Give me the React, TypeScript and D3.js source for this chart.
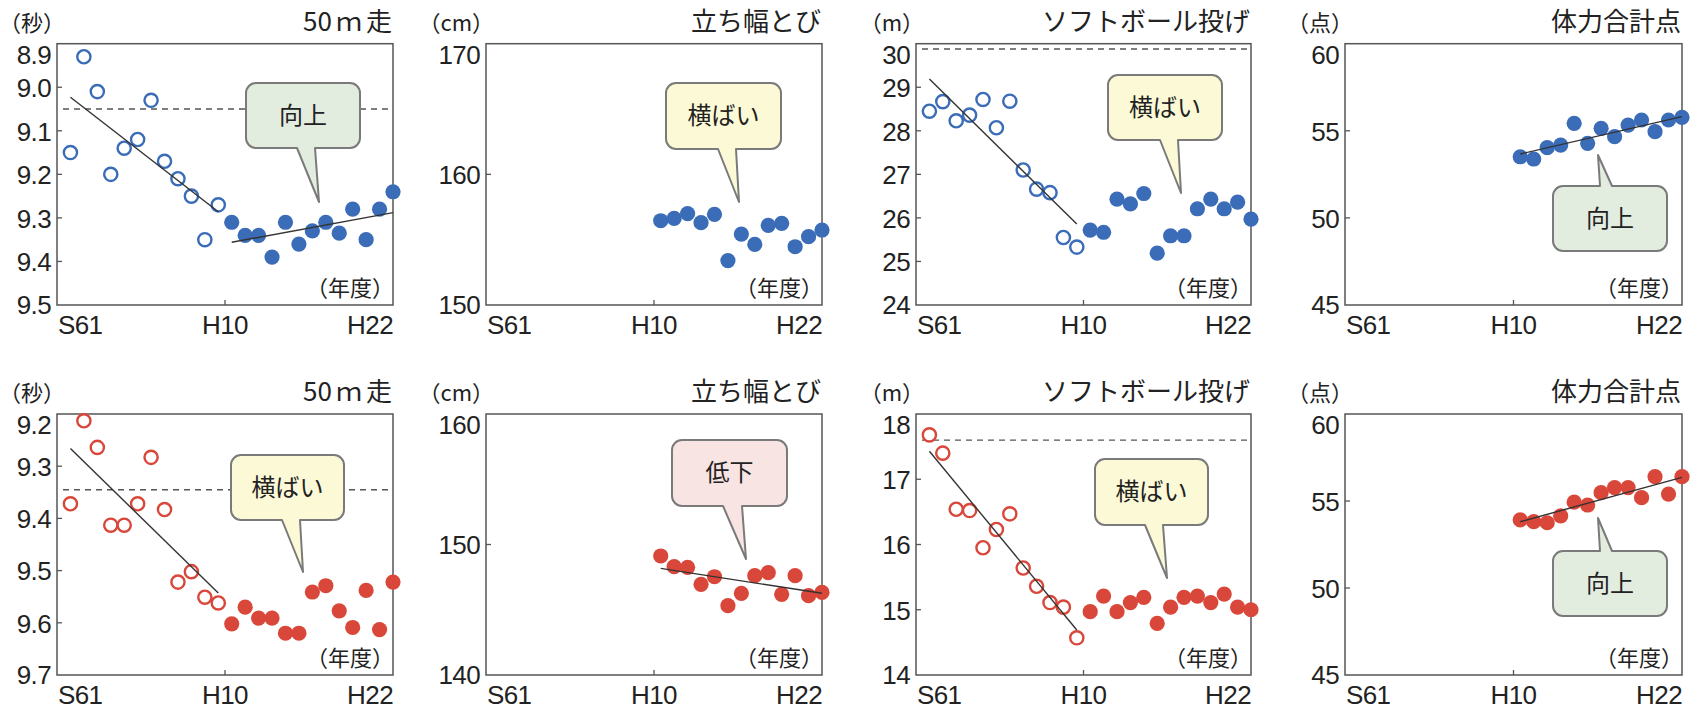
import React from 'react';
import * as d3 from 'd3';

// ---------- data ----------
const yearsOld = [1986, 1987, 1988, 1989, 1990, 1991, 1992, 1993, 1994, 1995, 1996, 1997];
const yearsNew = [1998, 1999, 2000, 2001, 2002, 2003, 2004, 2005, 2006, 2007, 2008, 2009, 2010];
const xTickLabels = ['S61', 'H10', 'H22'];

const boyRunOld = [9.15, 8.93, 9.01, 9.2, 9.14, 9.12, 9.03, 9.17, 9.21, 9.25, 9.35, 9.27];
const boyRunNew = [9.31, 9.34, 9.34, 9.39, 9.31, 9.36, 9.33, 9.31, 9.335, 9.28, 9.35, 9.28, 9.24];
const boyJumpNew = [156.45, 156.63, 157.0, 156.3, 156.94, 153.4, 155.43, 154.64, 156.1, 156.25, 154.46, 155.23, 155.74];
const boyThrowOld = [28.45, 28.67, 28.23, 28.36, 28.72, 28.07, 28.68, 27.1, 26.66, 26.58, 25.55, 25.33];
const boyThrowNew = [25.72, 25.67, 26.43, 26.32, 26.56, 25.19, 25.59, 25.59, 26.21, 26.43, 26.21, 26.36, 25.97];
const boyTotalNew = [53.51, 53.38, 54.03, 54.18, 55.43, 54.28, 55.14, 54.66, 55.33, 55.62, 54.95, 55.62, 55.77];

const girlRunOld = [9.372, 9.213, 9.264, 9.413, 9.413, 9.372, 9.283, 9.383, 9.522, 9.502, 9.551, 9.562];
const girlRunNew = [9.602, 9.57, 9.591, 9.591, 9.62, 9.62, 9.541, 9.529, 9.577, 9.609, 9.538, 9.613, 9.522];
const girlJumpNew = [149.12, 148.3, 148.25, 146.95, 147.53, 145.31, 146.26, 147.61, 147.84, 146.18, 147.61, 146.08, 146.33];
const girlThrowOld = [17.68, 17.4, 16.54, 16.52, 15.95, 16.23, 16.47, 15.64, 15.36, 15.11, 15.04, 14.57];
const girlThrowNew = [14.97, 15.21, 14.97, 15.11, 15.19, 14.79, 15.04, 15.19, 15.21, 15.11, 15.24, 15.04, 15.0];
const girlTotalNew = [53.91, 53.81, 53.75, 54.14, 54.93, 54.77, 55.48, 55.77, 55.77, 55.19, 56.4, 55.4, 56.4];

const runBoyTicks = ['8.9', '9.0', '9.1', '9.2', '9.3', '9.4', '9.5'];
const runGirlTicks = ['9.2', '9.3', '9.4', '9.5', '9.6', '9.7'];
const jumpBoyTicks = ['170', '160', '150'];
const jumpGirlTicks = ['160', '150', '140'];
const throwBoyTicks = ['30', '29', '28', '27', '26', '25', '24'];
const throwGirlTicks = ['18', '17', '16', '15', '14'];
const totalTicks = ['60', '55', '50', '45'];

// trend lines [year, value]
const boyRunTrendOld = [[1986, 9.023], [1997, 9.286]];
const boyRunTrendNew = [[1998, 9.356], [2010, 9.288]];
const boyThrowTrendOld = [[1986, 29.19], [1997, 25.86]];
const boyTotalTrend = [[1998, 53.67], [2010, 55.81]];
const girlRunTrendOld = [[1986, 9.266], [1997, 9.543]];
const girlJumpTrend = [[1998, 148.17], [2010, 146.26]];
const girlThrowTrendOld = [[1986, 17.43], [1997, 14.69]];
const girlTotalTrend = [[1998, 53.81], [2010, 56.36]];

// reference (dashed) levels
const boyRunRef = 9.05;
const boyThrowRef = 29.88;
const girlRunRef = 9.345;
const girlThrowRef = 17.6;

const titles = [['50', 'ｍ', '走'], ['立ち幅とび'], ['ソフトボール投げ'], ['体力合計点']];
const units = ['（秒）', '（cm）', '（m）', '（点）'];
const yearUnit = '（年度）';
const calloutTexts = { up: '向上', flat: '横ばい', down: '低下' };

// ---------- layout / style ----------
const BLUE = '#3a6cb8';
const RED = '#d9473a';
const FILL = { up: '#e3eddf', flat: '#fcfad6', down: '#f8e5e3' };
const COLS = [[57, 393], [486, 822], [916, 1251], [1345, 1682]];
const ROWS = [[43.7, 305], [414, 675]];
const X_DOMAIN = [1985, 2010];
const H10_TICK = 1997.5;
const NUM_FONT = '"Liberation Sans", Arial, Helvetica, sans-serif';
const JP_FONT = '"Noto Sans CJK JP", "Noto Sans", sans-serif';
const NUM_SIZE = 26;

type Callout = { kind: 'up' | 'flat' | 'down'; x0: number; x1: number; y0: number; y1: number; tx: number; ty: number; b0: number; b1: number; side: 'top' | 'bottom' };

type PanelProps = {
  col: number; row: number; color: string;
  ticks: string[]; unit: string; title: string[];
  oldVals?: number[]; newVals: number[];
  trends: number[][][]; refLine?: number; callout: Callout;
};

function calloutPath(c: Callout, fx: number, fy: number) {
  const r = 10;
  const x0 = fx + c.x0, x1 = fx + c.x1, y0 = fy + c.y0, y1 = fy + c.y1;
  const tx = fx + c.tx, ty = fy + c.ty, b0 = fx + c.b0, b1 = fx + c.b1;
  if (c.side === 'bottom') {
    return `M${x0 + r},${y0} H${x1 - r} A${r},${r} 0 0 1 ${x1},${y0 + r} V${y1 - r} A${r},${r} 0 0 1 ${x1 - r},${y1} H${b1} L${tx},${ty} L${b0},${y1} H${x0 + r} A${r},${r} 0 0 1 ${x0},${y1 - r} V${y0 + r} A${r},${r} 0 0 1 ${x0 + r},${y0} Z`;
  }
  return `M${x0 + r},${y0} H${b0} L${tx},${ty} L${b1},${y0} H${x1 - r} A${r},${r} 0 0 1 ${x1},${y0 + r} V${y1 - r} A${r},${r} 0 0 1 ${x1 - r},${y1} H${x0 + r} A${r},${r} 0 0 1 ${x0},${y1 - r} V${y0 + r} A${r},${r} 0 0 1 ${x0 + r},${y0} Z`;
}

function Panel(p: PanelProps) {
  const [fx0, fx1] = COLS[p.col];
  const [fy0, fy1] = ROWS[p.row];
  const tickVals = p.ticks.map(Number);
  const x = d3.scaleLinear().domain(X_DOMAIN).range([fx0, fx1]);
  const y = d3.scaleLinear().domain([tickVals[0], tickVals[tickVals.length - 1]]).range([fy0, fy1]);
  const line = d3.line<number[]>().x(d => x(d[0])).y(d => y(d[1]));
  const c = p.callout;
  return (
    <g>
      {/* unit & title */}
      <text x={fx0 - 3} y={fy0 - 13} textAnchor="end" fontFamily={JP_FONT} fontSize={22} fill="#222" style={{ fontFeatureSettings: '"halt"' }}>{p.unit}</text>
      <text x={fx1 - 1} y={fy0 - 13} textAnchor="end" fontFamily={JP_FONT} fontSize={26} fill="#222">
        {p.title.map((s, i) => <tspan key={i} dx={i > 0 ? 4 : 0}>{s}</tspan>)}
      </text>
      {/* frame */}
      <rect x={fx0} y={fy0} width={fx1 - fx0} height={fy1 - fy0} fill="none" stroke="#555" strokeWidth={1.5} />
      {/* y ticks */}
      {tickVals.map((v, i) => {
        const last = i === tickVals.length - 1;
        const off = i === 0 ? 20 : last ? 8.5 : 9.8;
        return (
          <g key={i}>
            {i > 0 && !last && <line x1={fx0} x2={fx0 + 5} y1={y(v)} y2={y(v)} stroke="#555" strokeWidth={1.3} />}
            <text x={fx0 - 6} y={y(v) + off} textAnchor="end" fontFamily={NUM_FONT} fontSize={NUM_SIZE} fill="#222" letterSpacing={-0.6}>{p.ticks[i]}</text>
          </g>
        );
      })}
      {/* x tick & labels */}
      <line x1={x(H10_TICK)} x2={x(H10_TICK)} y1={fy1} y2={fy1 - 5} stroke="#555" strokeWidth={1.3} />
      <text x={fx0 + 1} y={fy1 + 28.5} textAnchor="start" fontFamily={NUM_FONT} fontSize={NUM_SIZE} fill="#222" letterSpacing={-0.6}>{xTickLabels[0]}</text>
      <text x={x(H10_TICK)} y={fy1 + 28.5} textAnchor="middle" fontFamily={NUM_FONT} fontSize={NUM_SIZE} fill="#222" letterSpacing={-0.6}>{xTickLabels[1]}</text>
      <text x={fx1} y={fy1 + 28.5} textAnchor="end" fontFamily={NUM_FONT} fontSize={NUM_SIZE} fill="#222" letterSpacing={-0.6}>{xTickLabels[2]}</text>
      <text x={fx1 - 10} y={fy1 - 9} textAnchor="end" fontFamily={JP_FONT} fontSize={22} fill="#222" style={{ fontFeatureSettings: '"halt"' }}>{yearUnit}</text>
      {/* reference dashed line */}
      {p.refLine !== undefined && (
        <line x1={fx0 + 6} x2={fx1} y1={y(p.refLine)} y2={y(p.refLine)} stroke="#555" strokeWidth={1.4} strokeDasharray="6,5" />
      )}
      {/* points */}
      {p.oldVals && p.oldVals.map((v, i) => (
        <circle key={'o' + i} cx={x(yearsOld[i])} cy={y(v)} r={6.6} fill="#fff" stroke={p.color} strokeWidth={2.4} />
      ))}
      {p.newVals.map((v, i) => (
        <circle key={'n' + i} cx={x(yearsNew[i])} cy={y(v)} r={7.6} fill={p.color} />
      ))}
      {/* trend lines */}
      {p.trends.map((t, i) => (
        <path key={'t' + i} d={line(t) || ''} fill="none" stroke="#333" strokeWidth={1.4} />
      ))}
      {/* callout */}
      <path d={calloutPath(c, fx0, fy0)} fill={FILL[c.kind]} stroke="#7a7a7a" strokeWidth={2} strokeLinejoin="round" />
      <text x={fx0 + (c.x0 + c.x1) / 2} y={fy0 + (c.y0 + c.y1) / 2} dy="0.35em" textAnchor="middle" fontFamily={JP_FONT} fontSize={24} fill="#222">{calloutTexts[c.kind]}</text>
    </g>
  );
}

export default function App() {
  return (
    <div style={{ position: 'fixed', left: 0, top: 0, width: 1692, height: 708, background: '#fff' }}>
      <svg width={1692} height={708} viewBox="0 0 1692 708" style={{ display: 'block' }}>
        <rect width={1692} height={708} fill="#fff" />
        <Panel col={0} row={0} color={BLUE} ticks={runBoyTicks} unit={units[0]} title={titles[0]}
          oldVals={boyRunOld} newVals={boyRunNew} trends={[boyRunTrendOld, boyRunTrendNew]} refLine={boyRunRef}
          callout={{ kind: 'up', x0: 189, x1: 303, y0: 39.3, y1: 104.3, tx: 262, ty: 158.3, b0: 240, b1: 258, side: 'bottom' }} />
        <Panel col={1} row={0} color={BLUE} ticks={jumpBoyTicks} unit={units[1]} title={titles[1]}
          newVals={boyJumpNew} trends={[]}
          callout={{ kind: 'flat', x0: 180, x1: 295, y0: 39.3, y1: 105.3, tx: 253, ty: 158.3, b0: 232, b1: 250, side: 'bottom' }} />
        <Panel col={2} row={0} color={BLUE} ticks={throwBoyTicks} unit={units[2]} title={titles[2]}
          oldVals={boyThrowOld} newVals={boyThrowNew} trends={[boyThrowTrendOld]} refLine={boyThrowRef}
          callout={{ kind: 'flat', x0: 192, x1: 306, y0: 31.3, y1: 96.3, tx: 265, ty: 149.3, b0: 244, b1: 262, side: 'bottom' }} />
        <Panel col={3} row={0} color={BLUE} ticks={totalTicks} unit={units[3]} title={titles[3]}
          newVals={boyTotalNew} trends={[boyTotalTrend]}
          callout={{ kind: 'up', x0: 208, x1: 322, y0: 142.3, y1: 207.3, tx: 253, ty: 111.3, b0: 255, b1: 267, side: 'top' }} />

        <Panel col={0} row={1} color={RED} ticks={runGirlTicks} unit={units[0]} title={titles[0]}
          oldVals={girlRunOld} newVals={girlRunNew} trends={[girlRunTrendOld]} refLine={girlRunRef}
          callout={{ kind: 'flat', x0: 174, x1: 287, y0: 41, y1: 106, tx: 246, ty: 158, b0: 225, b1: 243, side: 'bottom' }} />
        <Panel col={1} row={1} color={RED} ticks={jumpGirlTicks} unit={units[1]} title={titles[1]}
          newVals={girlJumpNew} trends={[girlJumpTrend]}
          callout={{ kind: 'down', x0: 186, x1: 301, y0: 26, y1: 92, tx: 260, ty: 145, b0: 237, b1: 256, side: 'bottom' }} />
        <Panel col={2} row={1} color={RED} ticks={throwGirlTicks} unit={units[2]} title={titles[2]}
          oldVals={girlThrowOld} newVals={girlThrowNew} trends={[girlThrowTrendOld]} refLine={girlThrowRef}
          callout={{ kind: 'flat', x0: 179, x1: 292, y0: 45, y1: 111, tx: 251, ty: 164, b0: 229, b1: 247, side: 'bottom' }} />
        <Panel col={3} row={1} color={RED} ticks={totalTicks} unit={units[3]} title={titles[3]}
          newVals={girlTotalNew} trends={[girlTotalTrend]}
          callout={{ kind: 'up', x0: 208, x1: 322, y0: 137, y1: 202, tx: 253, ty: 104, b0: 255, b1: 267, side: 'top' }} />
      </svg>
    </div>
  );
}
